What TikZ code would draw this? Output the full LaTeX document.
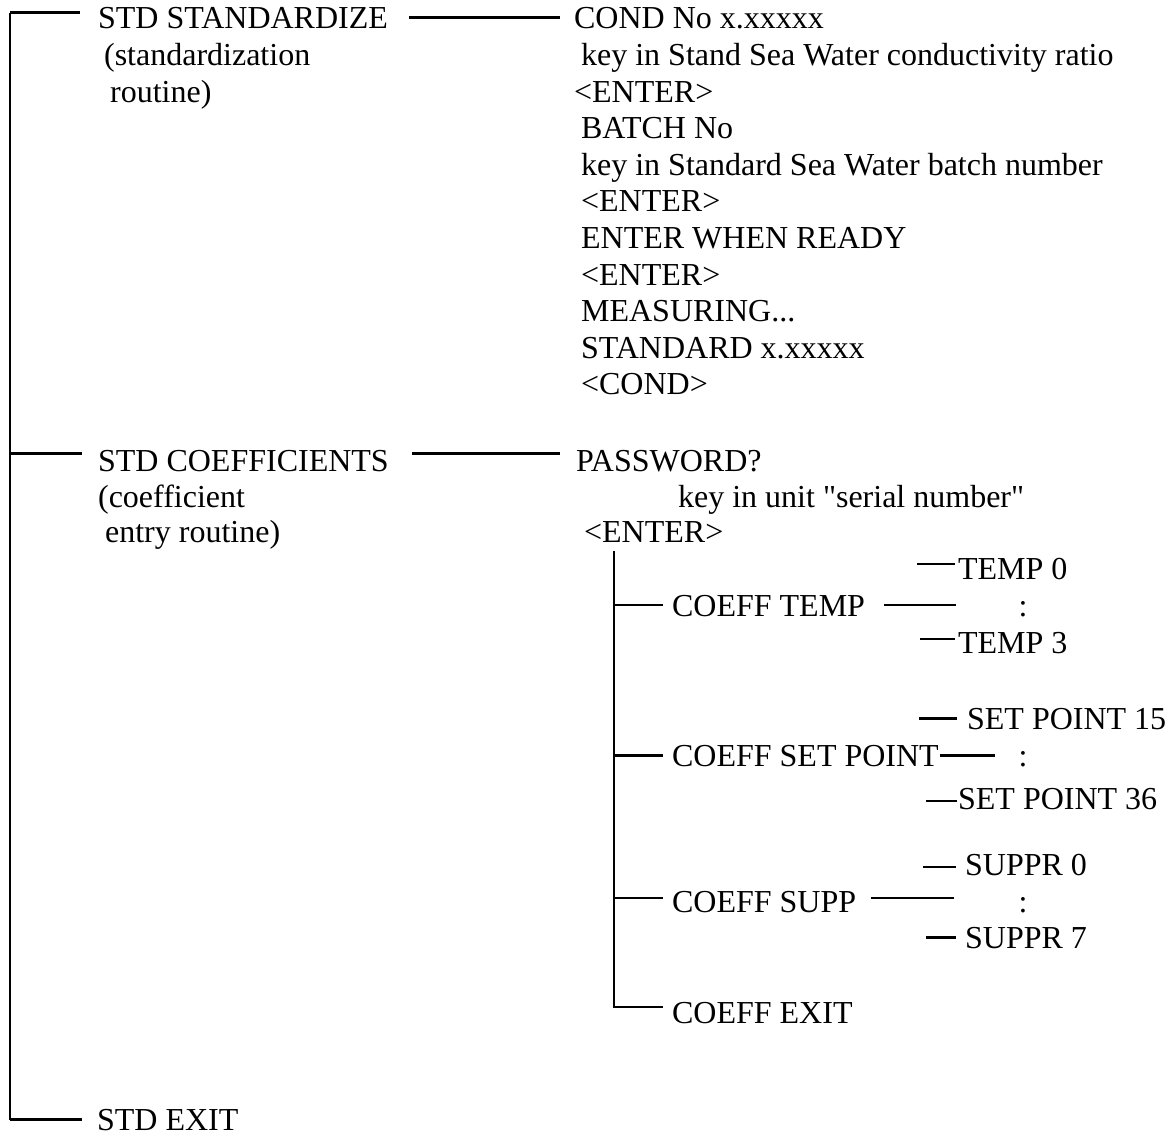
\documentclass[tikz,border=0pt]{standalone}
\usepackage{fontspec}
\setmainfont{Liberation Serif}
\usepackage{tikz}

\begin{document}
\begin{tikzpicture}[x=0.5pt,y=-0.5pt,line width=1.1pt,
  txt/.style={anchor=base west,inner sep=0pt,font=\fontsize{16}{18}\selectfont},
  dots/.style={anchor=base,inner sep=0pt,font=\fontsize{16}{18}\selectfont}]
\useasboundingbox (0,0) rectangle (1172,1138);
% Main menu entries on the left rail.
\coordinate (rail) at (10,0);
\node[txt] (std) at (97,29) {STD STANDARDIZE};
\node[txt] (stdnote1) at (103,66) {(standardization};
\node[txt] (stdnote2) at (109,103) {routine)};
\node[txt] (coef) at (97,472) {STD COEFFICIENTS};
\node[txt] (coefnote1) at (97,508) {(coefficient};
\node[txt] (coefnote2) at (104,543) {entry routine)};
\node[txt] (stdexit) at (96,1130) {STD EXIT};
% Standardization dialogue.
\node[txt] (cond) at (573,29) {COND No x.xxxxx};
\node[txt] (condkey) at (580,65.6) {key in Stand Sea Water conductivity ratio};
\node[txt] (condent) at (573,102.2) {<ENTER>};
\node[txt] (batch) at (580,138.8) {BATCH No};
\node[txt] (batchkey) at (580,175.4) {key in Standard Sea Water batch number};
\node[txt] (batchent) at (580,212) {<ENTER>};
\node[txt] (ready) at (580,248.6) {ENTER WHEN READY};
\node[txt] (readyent) at (580,285.2) {<ENTER>};
\node[txt] (meas) at (580,321.8) {MEASURING...};
\node[txt] (stdval) at (580,358.4) {STANDARD x.xxxxx};
\node[txt] (condret) at (580,395) {<COND>};
% Coefficient dialogue.
\node[txt] (pass) at (575,472) {PASSWORD?};
\node[txt] (passkey) at (677,508) {key in unit \textquotedbl serial number\textquotedbl};
\node[txt] (passent) at (583,543) {<ENTER>};
\coordinate (sub) at (614,551);
\node[txt] (ctemp) at (671,617) {COEFF TEMP};
\node[txt] (temp0) at (957,580) {TEMP 0};
\node[dots] (dots1) at (1023,617) {:};
\node[txt] (temp3) at (957,653) {TEMP 3};
\node[txt] (cset) at (671,766) {COEFF SET POINT};
\node[txt] (sp15) at (966,729) {SET POINT 15};
\node[dots] (dots2) at (1023,766) {:};
\node[txt] (sp36) at (957,809) {SET POINT 36};
\node[txt] (csupp) at (671,912) {COEFF SUPP};
\node[txt] (su0) at (964,875) {SUPPR 0};
\node[dots] (dots3) at (1023,912) {:};
\node[txt] (su7) at (964,948) {SUPPR 7};
\node[txt] (cexit) at (671,1023) {COEFF EXIT};
% Rails and branches.
\draw ([yshift=3pt]std.west -| rail) -- (stdexit.west -| rail);
\draw ([yshift=3pt]std.west -| rail) -- ([xshift=-8.5pt,yshift=3pt]std.west);
\draw ([yshift=4pt]coef.west -| rail) -- ([xshift=-7.5pt,yshift=4pt]coef.west);
\draw (stdexit.west -| rail) -- ([xshift=-7pt]stdexit.west);
\draw ([xshift=10pt,yshift=0.5pt]std.east) -- ([xshift=-6.5pt,yshift=0.5pt]std.east -| cond.west);
\draw ([xshift=11pt,yshift=4pt]coef.east) -- ([xshift=-7.5pt,yshift=4pt]coef.east -| pass.west);
\draw (sub) |- ([xshift=-4pt,yshift=2.7pt]cexit.west);
\draw ([yshift=0.7pt]ctemp.west -| sub) -- ([xshift=-4pt,yshift=0.7pt]ctemp.west);
\draw (cset.west -| sub) -- ([xshift=-4pt]cset.west);
\draw ([yshift=1.7pt]csupp.west -| sub) -- ([xshift=-4pt,yshift=1.7pt]csupp.west);
\draw ([xshift=9pt,yshift=0.7pt]ctemp.east) -- ([xshift=-0.5pt,yshift=0.7pt]ctemp.east -| temp0.west);
\draw (cset.east) -- ([xshift=27.5pt]cset.east);
\draw ([xshift=7pt,yshift=1.7pt]csupp.east) -- ([xshift=-5pt,yshift=1.7pt]csupp.east -| su0.west);
% Value lists.
\draw ([xshift=-20pt,yshift=2.7pt]temp0.west) -- ([xshift=-1pt,yshift=2.7pt]temp0.west);
\draw ([xshift=-18.5pt,yshift=1.7pt]temp3.west) -- ([xshift=-1pt,yshift=1.7pt]temp3.west);
\draw ([xshift=-23.5pt]sp15.west) -- ([xshift=-4.5pt]sp15.west);
\draw ([xshift=-15.5pt,yshift=-1.3pt]sp36.west) -- ([yshift=-1.3pt]sp36.west);
\draw ([xshift=-20.5pt,yshift=-1.3pt]su0.west) -- ([xshift=-4pt,yshift=-1.3pt]su0.west);
\draw ([xshift=-19pt]su7.west) -- ([xshift=-4pt]su7.west);
\end{tikzpicture}
\end{document}
